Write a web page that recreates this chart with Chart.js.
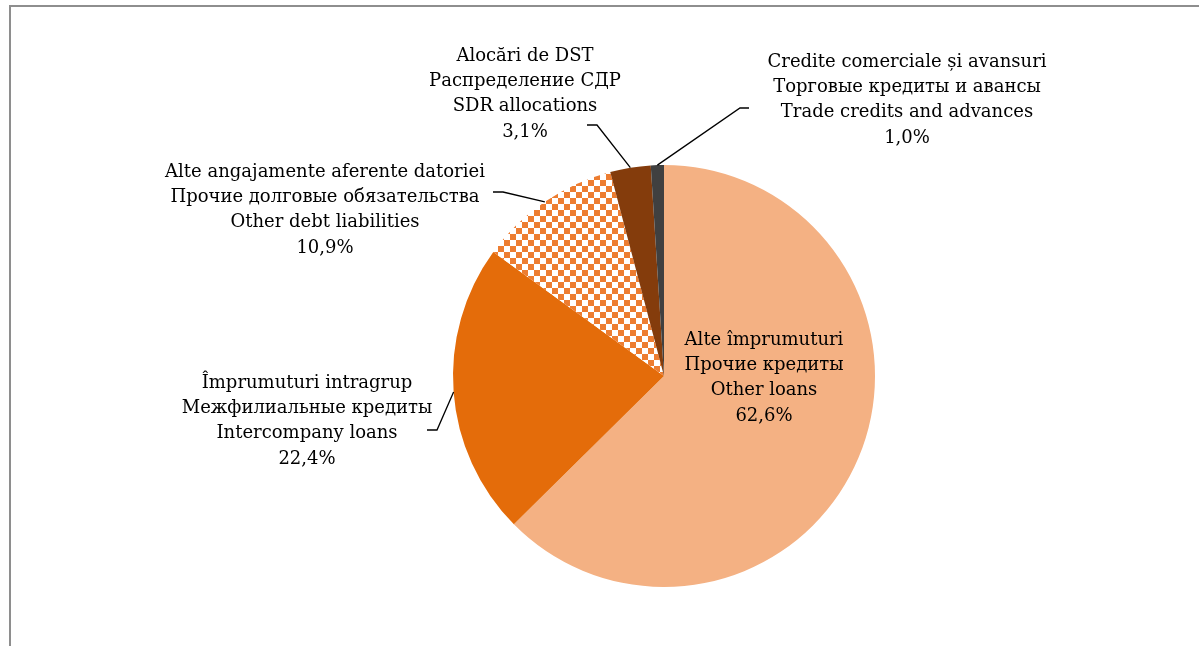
<!DOCTYPE html>
<html>
<head>
<meta charset="utf-8">
<script src="https://cdn.jsdelivr.net/npm/chart.js@4/dist/chart.umd.min.js"></script>
<style>
  body { margin: 0; background: #fff; }
  #wrap { position: relative; width: 1199px; height: 646px; overflow: hidden; }
  #frame { position: absolute; left: 9px; top: 5px; width: 1300px; height: 800px;
           border-top: 2px solid #8e8e8e; border-left: 2px solid #8e8e8e; }
  canvas { position: absolute; left: 0; top: 0; }
</style>
</head>
<body>
<div id="wrap">
  <div id="frame"></div>
  <canvas id="pie" width="1199" height="646"></canvas>
</div>
<script>
// ===== DATA =====
const namesRo = ["Alte împrumuturi", "Împrumuturi intragrup", "Alte angajamente aferente datoriei", "Alocări de DST", "Credite comerciale și avansuri"];
const namesRu = ["Прочие кредиты", "Межфилиальные кредиты", "Прочие долговые обязательства", "Распределение СДР", "Торговые кредиты и авансы"];
const namesEn = ["Other loans", "Intercompany loans", "Other debt liabilities", "SDR allocations", "Trade credits and advances"];
const shares = [62.6, 22.4, 10.9, 3.1, 1.0];

// label placement (text centre + leader start/knee), same order as data
const labelPos = [
  { x: 764, y: 340, leader: null },
  { x: 307, y: 383, leader: [[427, 430], [437, 430]] },
  { x: 325, y: 172, leader: [[493, 192], [503, 192]] },
  { x: 525, y: 56, leader: [[587, 125], [597, 125]] },
  { x: 907, y: 62, leader: [[749, 108], [740, 108]] }
];

// ===== CHECKER PATTERN =====
function checker(color) {
  const c = document.createElement("canvas");
  c.width = 12; c.height = 12;
  const g = c.getContext("2d");
  g.fillStyle = "#ffffff";
  g.fillRect(0, 0, 12, 12);
  g.fillStyle = color;
  g.fillRect(0, 0, 6, 6);
  g.fillRect(6, 6, 6, 6);
  return g.createPattern(c, "repeat");
}

const colors = ["#F4B183", "#E46C0A", checker("#ED7D31"), "#843C0C", "#404040"];

// ===== LABELS PLUGIN =====
const pieLabels = {
  id: "pieLabels",
  afterDatasetsDraw(chart) {
    const ctx = chart.ctx;
    const arcs = chart.getDatasetMeta(0).data;
    ctx.save();
    arcs.forEach((arc, i) => {
      const p = labelPos[i];
      const { x, y, startAngle, endAngle, outerRadius } = arc.getProps(["x", "y", "startAngle", "endAngle", "outerRadius"], true);
      const mid = (startAngle + endAngle) / 2;
      if (p.leader) {
        ctx.strokeStyle = "#000";
        ctx.lineWidth = 1.3;
        ctx.beginPath();
        ctx.moveTo(p.leader[0][0], p.leader[0][1]);
        ctx.lineTo(p.leader[1][0], p.leader[1][1]);
        ctx.lineTo(x + Math.cos(mid) * outerRadius, y + Math.sin(mid) * outerRadius);
        ctx.stroke();
      }
      const lines = [namesRo[i], namesRu[i], namesEn[i], shares[i].toFixed(1).replace(".", ",") + "%"];
      ctx.fillStyle = "#000";
      ctx.font = "18px 'DejaVu Serif'";
      ctx.textAlign = "center";
      ctx.textBaseline = "middle";
      lines.forEach((t, k) => ctx.fillText(t, p.x, p.y + k * 25.3));
    });
    ctx.restore();
  }
};

// ===== CHART =====
new Chart(document.getElementById("pie"), {
  type: "pie",
  data: {
    labels: namesEn,
    datasets: [{
      data: shares,
      backgroundColor: colors,
      borderWidth: 0
    }]
  },
  options: {
    responsive: false,
    animation: false,
    events: [],
    layout: { padding: { top: 165, bottom: 59, left: 300, right: 171 } },
    plugins: { legend: { display: false }, tooltip: { enabled: false } }
  },
  plugins: [pieLabels]
});
</script>
</body>
</html>
